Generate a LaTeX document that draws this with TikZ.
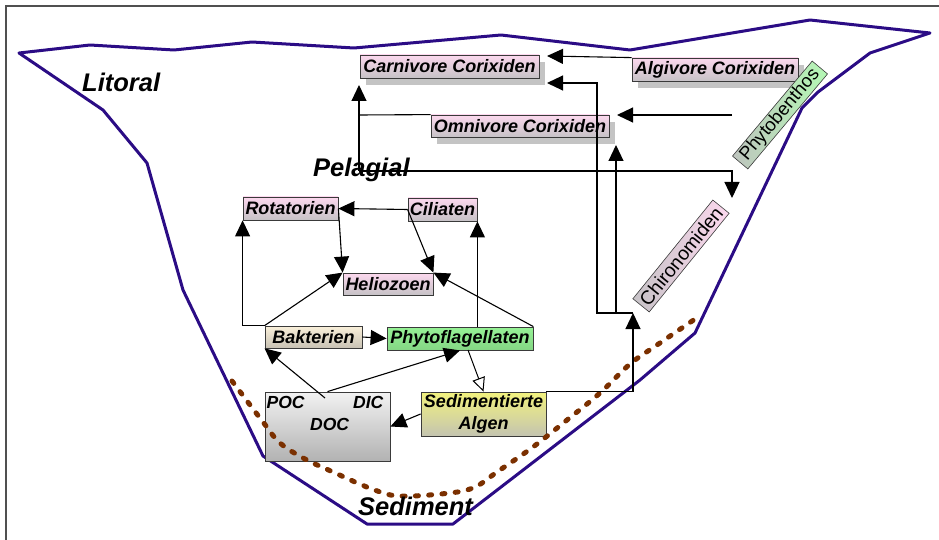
\documentclass[tikz,border=0pt]{standalone}
\usepackage{fontspec}
\setmainfont{Liberation Sans}
\usetikzlibrary{arrows.meta,shadows}

\definecolor{lake}{HTML}{2B0C85}
\definecolor{sedline}{HTML}{7B3000}
\definecolor{frame}{HTML}{505050}
\definecolor{boxline}{HTML}{3A3A3A}
\definecolor{shade}{HTML}{C4C4C4}
\definecolor{pinkT}{HTML}{FCD8EE}
\definecolor{pinkB}{HTML}{C6C2C6}
\definecolor{beigeT}{HTML}{FAF0DA}
\definecolor{beigeB}{HTML}{C8C2B4}
\definecolor{greenT}{HTML}{96F296}
\definecolor{greenB}{HTML}{84D684}
\definecolor{lgreenT}{HTML}{B4F8B4}
\definecolor{lgreenB}{HTML}{BEC4BE}
\definecolor{grayT}{HTML}{F2F2F2}
\definecolor{grayB}{HTML}{B2B2B2}
\definecolor{yellowT}{HTML}{F2F27E}
\definecolor{yellowB}{HTML}{C4C4B0}

\begin{document}
\begin{tikzpicture}[x=1pt,y=-1pt,
  box/.style={draw=boxline, line width=0.8pt, inner sep=0pt,
    font=\fontsize{18}{22}\selectfont\bfseries\itshape},
  pinkbox/.style={box, top color=pinkT, bottom color=pinkB},
  shadowed/.style={drop shadow={shadow xshift=6pt, shadow yshift=-7pt,
    fill=shade, opacity=1}},
  tiltbox/.style={draw=boxline, line width=0.6pt, inner sep=0pt},
  zone/.style={inner sep=0pt, anchor=base west,
    font=\fontsize{25.5}{30}\selectfont\bfseries\itshape},
  carbon/.style={inner sep=0pt,
    font=\fontsize{17.5}{21}\selectfont\bfseries\itshape},
  arr/.style={line width=1.1pt, -{Triangle[length=16pt,width=15pt]}},
  openarr/.style={line width=1pt, -{Triangle[open,length=14pt,width=13pt,fill=white]}},
  link/.style={line width=1.1pt},
]
\useasboundingbox (0,0) rectangle (939,540);

% outer frame
\draw[frame, line width=1.5pt] (6,540) -- (6,6) -- (939,6);

% lake basin outline
\draw[lake, line width=3pt, line join=round]
  (19,53) -- (90,45) -- (174,50) -- (252,42) -- (354,48) -- (501,35)
  -- (630,50) -- (810,20) -- (930,33) -- (870,53) -- (818,92) -- (802,108)
  -- (695,333) -- (640,380) -- (453,524) -- (367,524) -- (263,456)
  -- (183,290) -- (147,163) -- (103,110) -- cycle;

% organisms and carbon pools
\node[pinkbox, shadowed, minimum width=179pt, minimum height=23pt] (carn) at (449.5,66.5) {Carnivore Corixiden};
\node[pinkbox, shadowed, minimum width=166pt, minimum height=23pt] (alg) at (715,69.5) {Algivore Corixiden};
\node[pinkbox, shadowed, minimum width=178pt, minimum height=22pt] (omni) at (520,126) {Omnivore Corixiden};
\node[pinkbox, minimum width=95pt, minimum height=23pt] (rot) at (290.5,208.5) {Rotatorien};
\node[pinkbox, minimum width=69pt, minimum height=23pt] (cil) at (442.5,209.5) {Ciliaten};
\node[pinkbox, minimum width=90pt, minimum height=22pt] (hel) at (388,284) {Heliozoen};
\node[box, top color=beigeT, bottom color=beigeB, minimum width=97pt, minimum height=22pt] (bak) at (313.5,337) {Bakterien};
\node[box, top color=greenT, bottom color=greenB, minimum width=146pt, minimum height=23pt] (phyf) at (460,338.5) {Phytoflagellaten};
\node[box, top color=grayT, bottom color=grayB, minimum width=125pt, minimum height=69pt] (poc) at (327.5,426.5) {};
\node[box, top color=yellowT, bottom color=yellowB, minimum width=125pt, minimum height=44pt, align=center] (sed) at (483.5,414) {Sedimentierte\\Algen};
\node[tiltbox, rotate=50, left color=lgreenB, right color=lgreenT, minimum width=124pt, minimum height=20pt,
  font=\fontsize{18.5}{22}\selectfont] (phyb) at (780,115) {Phytobenthos};
\node[tiltbox, rotate=51, left color=pinkB, right color=pinkT, minimum width=127pt, minimum height=21pt,
  font=\fontsize{19.3}{22}\selectfont] (chir) at (681,256) {Chironomiden};

\node[carbon, anchor=base west] (pocT) at (266.5,408) {POC};
\node[carbon, anchor=base east] (dicT) at (383.5,408) {DIC};
\node[carbon, anchor=base west] (docT) at (310,430) {DOC};

% sediment surface, running across the carbon pool box
\draw[sedline, line width=5pt, line cap=round, dash pattern=on 3pt off 10.3pt]
  plot[smooth, tension=0.6] coordinates {(232,381) (263,422) (280,443) (305,459)
  (333,472) (372,489) (400,496) (450,493) (475,487) (497,472) (533,447)
  (567,420) (600,393) (630,364) (657,345) (698,317)};

% junctions and free ends
\coordinate (tipCa) at (547,56);
\coordinate (tipCb) at (547,83);
\coordinate (tipCc) at (359,85);
\coordinate (omL) at (359,115);
\coordinate (pel) at (359,171);
\coordinate (tipCh) at (732,198);
\coordinate (bentA) at (732,115);
\coordinate (tipOm) at (617,115);
\coordinate (tipOmB) at (616,145);
\coordinate (j1) at (633,313);
\coordinate (k1) at (597,313);
\coordinate (k2) at (616,313);
\coordinate (pocA) at (325,398);
\coordinate (phyfS) at (468,350);

% feeding links
\draw[arr] (alg.north west) -- (tipCa);
\draw[arr] (sed.north east) -| (j1);
\draw[arr] (j1) -- (k1) |- (tipCb);
\draw[arr] (k2) -- (tipOmB);
\draw[arr] (bentA) -- (tipOm);
\draw[link] (omni.north west) -- (omL);
\draw[arr] (pel) -- (tipCc);
\draw[arr] (pel) -| (tipCh);

\draw[arr] (cil.west) -- (rot.east);
\draw[arr] (rot.east) -- (hel.north west);
\draw[arr] (cil.west) -- (hel.north east);
\draw[arr] (bak.north west) -- (hel.north west);
\draw[arr] (phyf.north east) -- (hel.north east);
\draw[arr] (phyf.north -| cil.south east) -- (cil.south east);
\draw[arr] (bak.north west) -| (rot.south west);
\draw[arr] (bak.east) -- (phyf.west);
\draw[arr] (pocA) -- (bak.south west);
\draw[arr] (poc.north) -- (phyf.south);
\draw[openarr] (phyfS) -- (sed.north);
\draw[arr] (sed.west) -- (poc.east);

% zone names
\node[zone] (litoral) at (82,92) {Litoral};
\node[zone] (pelagial) at (313,177) {Pelagial};
\node[zone] (sediment) at (358,515) {Sediment};
\end{tikzpicture}
\end{document}
